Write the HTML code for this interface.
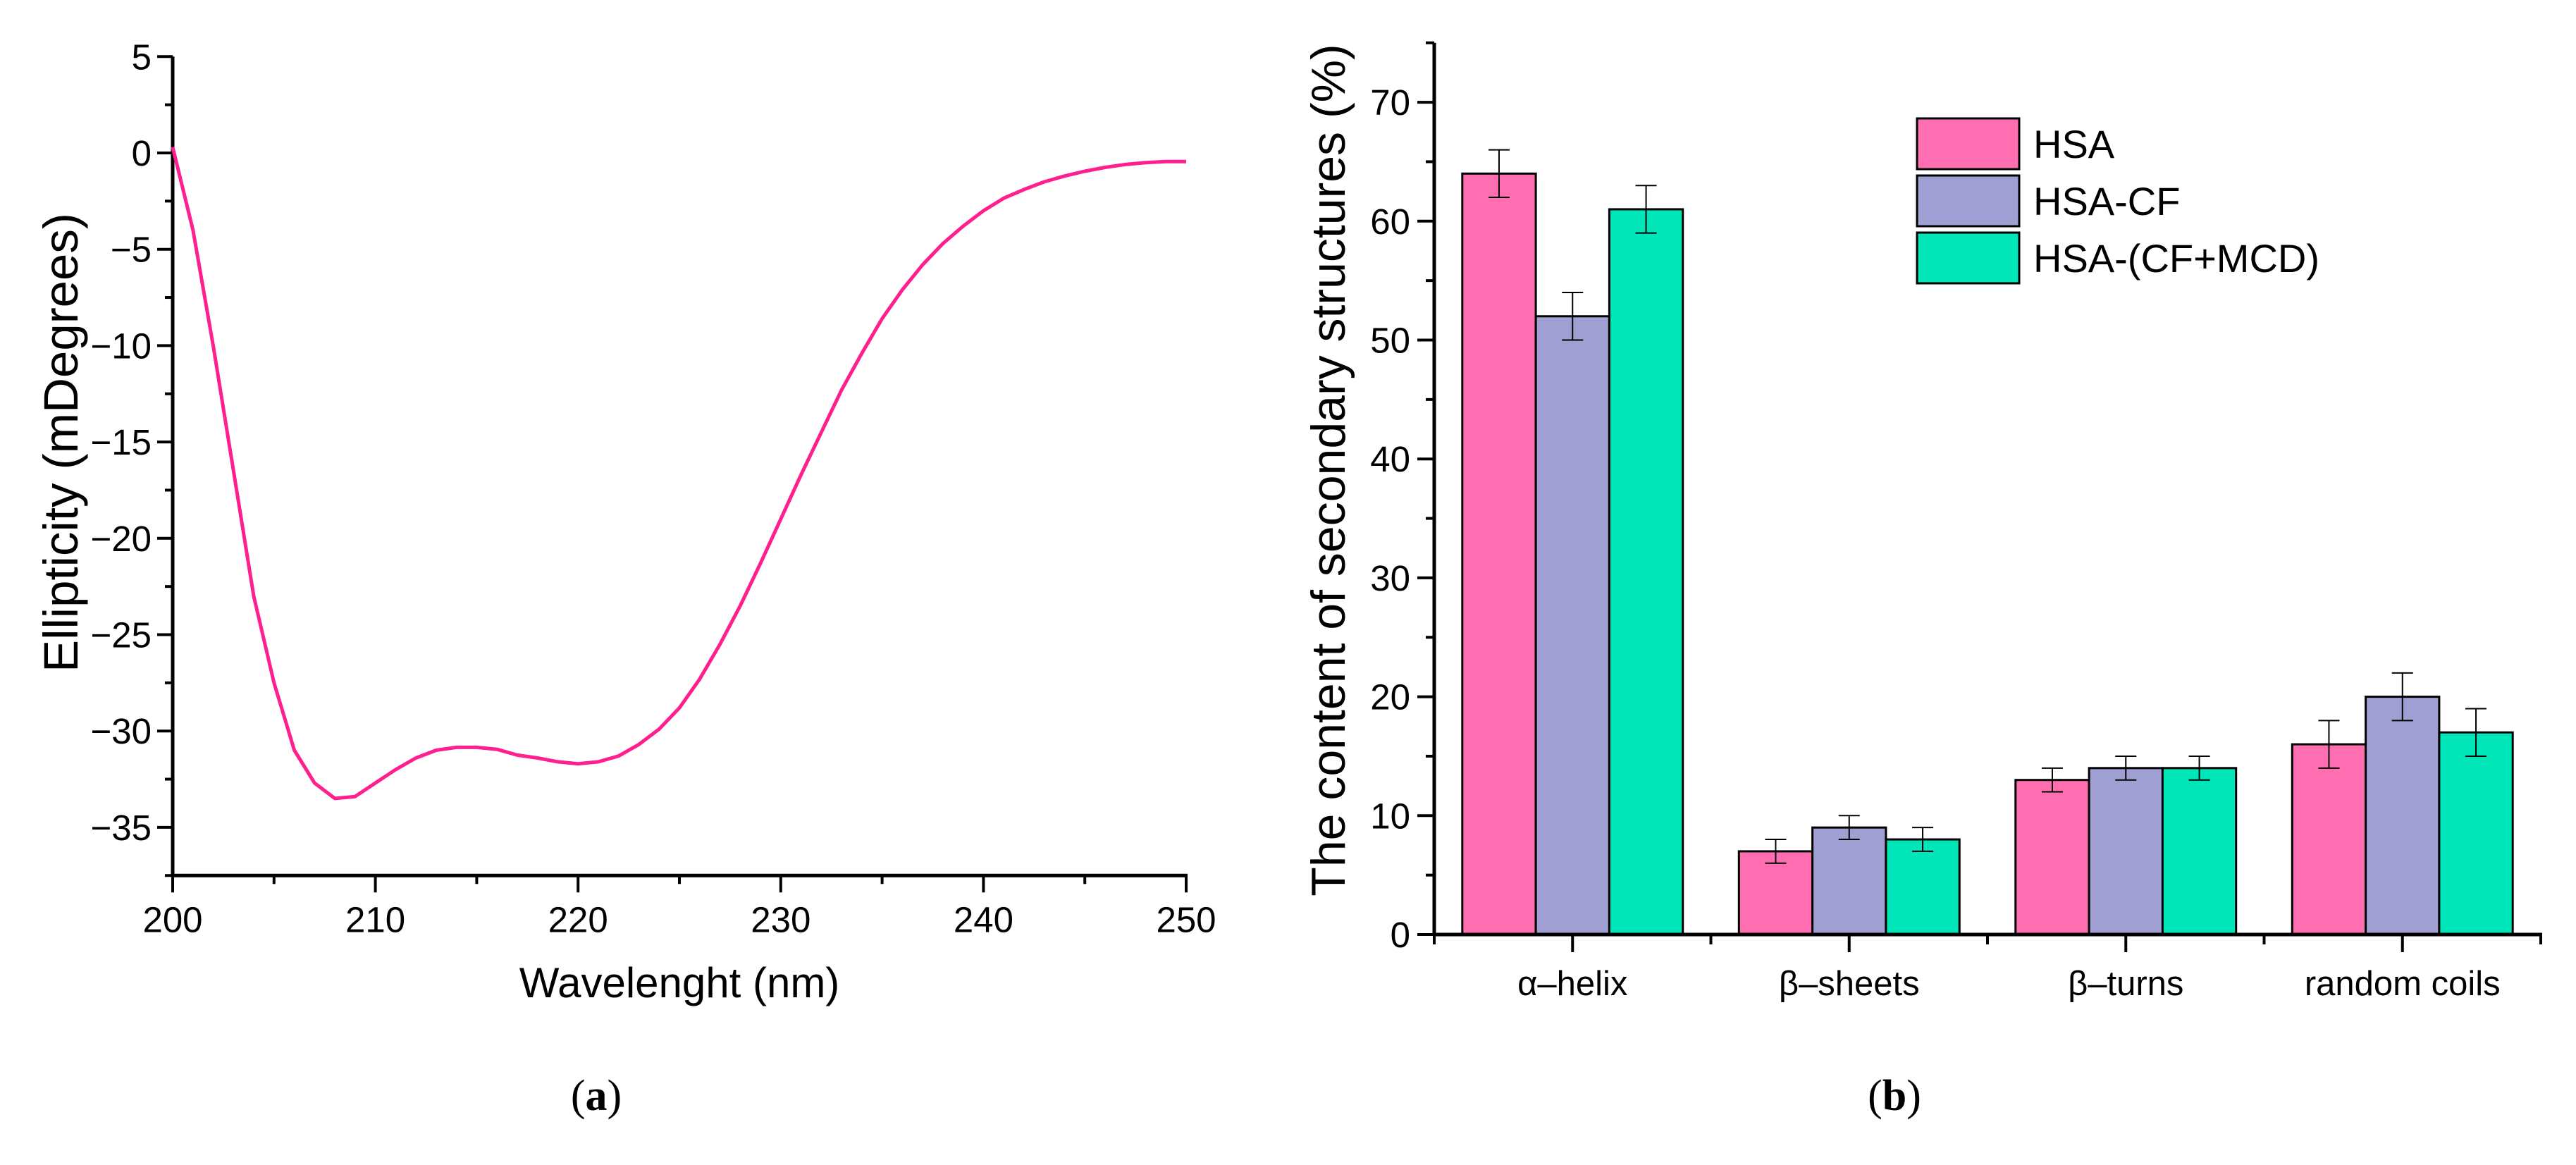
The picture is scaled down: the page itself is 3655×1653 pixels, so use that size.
<!DOCTYPE html>
<html><head><meta charset="utf-8"><style>
html,body{margin:0;padding:0;background:#fff;}
svg{display:block;font-family:"Liberation Sans",sans-serif;}
</style></head><body>
<svg id="fig" width="3655" height="1653" viewBox="0 0 3655 1653" xmlns="http://www.w3.org/2000/svg">
<g id="chartA"></g>
<g id="chartB"></g>
<text x="846" y="1575" font-family="Liberation Serif,serif" font-size="62" text-anchor="middle">(<tspan font-weight="bold">a</tspan>)</text>
<text x="2688" y="1575" font-family="Liberation Serif,serif" font-size="62" text-anchor="middle">(<tspan font-weight="bold">b</tspan>)</text>
</svg>
<script>
// ---- Chart A data ----
const wavelengths = [200,201,202,203,204,205,206,207,208,209,210,211,212,213,214,215,216,217,218,219,220,221,222,223,224,225,226,227,228,229,230,231,232,233,234,235,236,237,238,239,240,241,242,243,244,245,246,247,248,249,250];
const ellipticity = [0.3,-4,-10,-16.5,-23,-27.5,-31,-32.7,-33.5,-33.4,-32.7,-32,-31.4,-31,-30.85,-30.85,-30.95,-31.25,-31.4,-31.6,-31.7,-31.6,-31.3,-30.7,-29.9,-28.8,-27.3,-25.5,-23.5,-21.3,-19,-16.7,-14.5,-12.3,-10.4,-8.6,-7.1,-5.8,-4.7,-3.8,-3,-2.35,-1.9,-1.5,-1.2,-0.95,-0.75,-0.6,-0.5,-0.45,-0.45];
const xTicksA = [200,210,220,230,240,250];
const yTicksA = [5,0,-5,-10,-15,-20,-25,-30,-35];

// ---- Chart B data ----
const categories = ["α–helix","β–sheets","β–turns","random coils"];
const seriesNames = ["HSA","HSA-CF","HSA-(CF+MCD)"];
const hsaValues = [64,7,13,16];
const hsaCfValues = [52,9,14,20];
const hsaCfMcdValues = [61,8,14,17];
const hsaErr = [2,1,1,2];
const hsaCfErr = [2,1,1,2];
const hsaCfMcdErr = [2,1,1,2];
const yTicksB = [0,10,20,30,40,50,60,70];

const NS = "http://www.w3.org/2000/svg";
function mk(parent, tag, attrs){
  const e = document.createElementNS(NS, tag);
  for (const k in attrs) e.setAttribute(k, attrs[k]);
  parent.appendChild(e);
  return e;
}

// ===== Chart A =====
(function(){
  const g = document.getElementById('chartA');
  const X0=245, X1=1683, Y0=217, PU=27.34;
  const xs = v => X0 + (v-200)*(X1-X0)/50;
  const ys = v => Y0 - v*PU;
  const yTop = ys(5), yBot = ys(-37.5);
  for (let v=5; v>=-37.5; v-=2.5){
    const major = Math.abs(v%5)<1e-9;
    const t = mk(g,'line',{x1:X0-(major?22:11),x2:X0,y1:ys(v),y2:ys(v),stroke:'#000','stroke-width':4});
    
    
  }
  for (let v=200; v<=250; v+=5){
    const major = v%10===0;
    const t = mk(g,'line',{x1:xs(v),x2:xs(v),y1:yBot,y2:yBot+(major?24:12),stroke:'#000','stroke-width':4});
    
    
  }
  const ya = mk(g,'line',{x1:X0,x2:X0,y1:yTop,y2:yBot+2,stroke:'#000','stroke-width':5});
  
  
  const xa = mk(g,'line',{x1:X0-2,x2:X1+2,y1:yBot,y2:yBot,stroke:'#000','stroke-width':5});
  
  
  yTicksA.forEach(v=>{
    const t = mk(g,'text',{x:X0-30,y:ys(v)+18,'font-size':51,'text-anchor':'end'});
    t.textContent = v<0 ? '−'+Math.abs(v) : String(v);
    
    
  });
  xTicksA.forEach(v=>{
    const t = mk(g,'text',{x:xs(v),y:yBot+80,'font-size':51,'text-anchor':'middle'});
    t.textContent = String(v);
    
    
  });
  const xt = mk(g,'text',{x:(X0+X1)/2,y:1415,'font-size':60,'text-anchor':'middle'});
  xt.textContent='Wavelenght (nm)';
  
  
  const yt = mk(g,'text',{x:0,y:0,'font-size':69,'text-anchor':'middle',transform:'translate(110,628) rotate(-90)'});
  yt.textContent='Ellipticity (mDegrees)';
  
  
  const pts = wavelengths.map((w,i)=>xs(w).toFixed(1)+','+ys(ellipticity[i]).toFixed(1)).join(' ');
  const line = mk(g,'polyline',{points:pts,fill:'none',stroke:'#ff1f8e','stroke-width':5,'stroke-linejoin':'round'});
  
  
})();

// ===== Chart B =====
(function(){
  const g = document.getElementById('chartB');
  const L=2035, C=392.5, Y0=1326, PU=16.87, BW=104.3;
  const R = L + C*categories.length;
  const ys = v => Y0 - v*PU;
  const yTop = ys(75);
  const colors = ['#ff6eb0','#9f9fd3','#00e6b8'];
  const vals = [hsaValues,hsaCfValues,hsaCfMcdValues];
  const errs = [hsaErr,hsaCfErr,hsaCfMcdErr];
  const barNames = ['bar-hsa','bar-hsa-cf','bar-hsa-cf-mcd'];
  categories.forEach((c,i)=>{
    const cx = L + C*(i+0.5);
    vals.forEach((arr,s)=>{
      const x = cx - 1.5*BW + s*BW;
      const r = mk(g,'rect',{x:x,y:ys(arr[i]),width:BW,height:Y0-ys(arr[i]),fill:colors[s],stroke:'#000','stroke-width':3});
      
      
      const ex = x+BW/2, e = errs[s][i];
      const eb = mk(g,'path',{d:`M${ex},${ys(arr[i]+e)}V${ys(arr[i]-e)}M${ex-15},${ys(arr[i]+e)}H${ex+15}M${ex-15},${ys(arr[i]-e)}H${ex+15}`,stroke:'#000','stroke-width':2,fill:'none'});
      
      
    });
    const t = mk(g,'text',{x:cx,y:1412,'font-size':49,'text-anchor':'middle'});
    t.textContent = c;
    
    
    const tk = mk(g,'line',{x1:cx,x2:cx,y1:Y0,y2:Y0+25,stroke:'#000','stroke-width':4});
    
    
  });
  for (let i=0;i<=categories.length;i++){
    const x=L+C*i;
    const tk = mk(g,'line',{x1:x,x2:x,y1:Y0,y2:Y0+14,stroke:'#000','stroke-width':4});
    
    
  }
  for (let v=0; v<=75; v+=5){
    const major = v%10===0;
    const tk = mk(g,'line',{x1:L-(major?24:12),x2:L,y1:ys(v),y2:ys(v),stroke:'#000','stroke-width':4});
    
    
  }
  yTicksB.forEach(v=>{
    const t = mk(g,'text',{x:L-34,y:ys(v)+18,'font-size':51,'text-anchor':'end'});
    t.textContent = String(v);
    
    
  });
  const ya = mk(g,'line',{x1:L,x2:L,y1:yTop,y2:Y0+2,stroke:'#000','stroke-width':5});
  
  
  const xa = mk(g,'line',{x1:L-2,x2:R+2,y1:Y0,y2:Y0,stroke:'#000','stroke-width':5});
  
  
  const yt = mk(g,'text',{x:0,y:0,'font-size':68,'text-anchor':'middle',transform:'translate(1908,667) rotate(-90)'});
  yt.textContent='The content of secondary structures (%)';
  
  
  const ly=[168,249,330];
  seriesNames.forEach((n,s)=>{
    const r = mk(g,'rect',{x:2720,y:ly[s],width:145,height:72,fill:colors[s],stroke:'#000','stroke-width':3});
    
    
    const t = mk(g,'text',{x:2885,y:ly[s]+56,'font-size':56});
    t.textContent = n;
    
    
  });
})();
</script>
</body></html>
